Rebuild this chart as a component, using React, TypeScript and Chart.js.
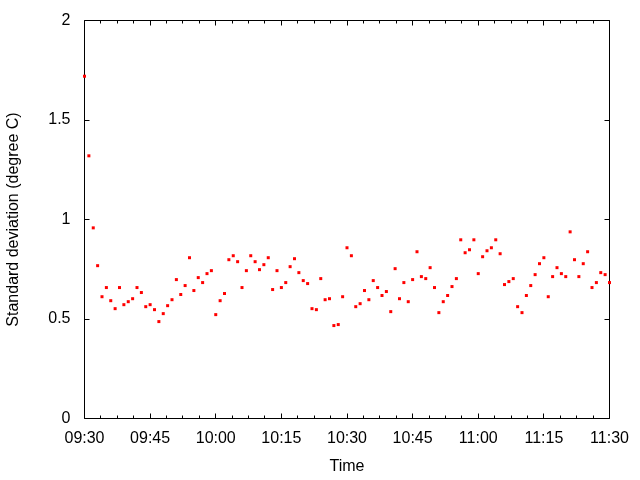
import React, { useEffect, useRef } from "react";
import { Chart, registerables } from "chart.js";

Chart.register(...registerables);

// Categories: one sample per minute, 09:30 .. 11:30
const timeLabels = [
  "09:30", "09:31", "09:32", "09:33", "09:34", "09:35", "09:36", "09:37", "09:38", "09:39",
  "09:40", "09:41", "09:42", "09:43", "09:44", "09:45", "09:46", "09:47", "09:48", "09:49",
  "09:50", "09:51", "09:52", "09:53", "09:54", "09:55", "09:56", "09:57", "09:58", "09:59",
  "10:00", "10:01", "10:02", "10:03", "10:04", "10:05", "10:06", "10:07", "10:08", "10:09",
  "10:10", "10:11", "10:12", "10:13", "10:14", "10:15", "10:16", "10:17", "10:18", "10:19",
  "10:20", "10:21", "10:22", "10:23", "10:24", "10:25", "10:26", "10:27", "10:28", "10:29",
  "10:30", "10:31", "10:32", "10:33", "10:34", "10:35", "10:36", "10:37", "10:38", "10:39",
  "10:40", "10:41", "10:42", "10:43", "10:44", "10:45", "10:46", "10:47", "10:48", "10:49",
  "10:50", "10:51", "10:52", "10:53", "10:54", "10:55", "10:56", "10:57", "10:58", "10:59",
  "11:00", "11:01", "11:02", "11:03", "11:04", "11:05", "11:06", "11:07", "11:08", "11:09",
  "11:10", "11:11", "11:12", "11:13", "11:14", "11:15", "11:16", "11:17", "11:18", "11:19",
  "11:20", "11:21", "11:22", "11:23", "11:24", "11:25", "11:26", "11:27", "11:28", "11:29",
  "11:30",
];

// Standard deviation (degree C) per minute
const stdDev = [
  1.72, 1.32, 0.958, 0.768, 0.612, 0.658, 0.592, 0.552, 0.658, 0.572,
  0.587, 0.602, 0.658, 0.633, 0.562, 0.572, 0.547, 0.487, 0.527, 0.567,
  0.597, 0.698, 0.623, 0.668, 0.808, 0.643, 0.708, 0.683, 0.728, 0.743,
  0.522, 0.592, 0.628, 0.798, 0.818, 0.788, 0.658, 0.743, 0.818, 0.788,
  0.748, 0.773, 0.808, 0.648, 0.743, 0.658, 0.683, 0.763, 0.803, 0.733,
  0.693, 0.678, 0.552, 0.547, 0.703, 0.597, 0.602, 0.467, 0.472, 0.612,
  0.858, 0.818, 0.562, 0.577, 0.643, 0.597, 0.693, 0.658, 0.618, 0.638,
  0.537, 0.753, 0.602, 0.683, 0.587, 0.698, 0.838, 0.713, 0.703, 0.758,
  0.658, 0.532, 0.587, 0.618, 0.663, 0.703, 0.898, 0.833, 0.848, 0.898,
  0.728, 0.813, 0.843, 0.858, 0.898, 0.828, 0.673, 0.688, 0.703, 0.562,
  0.532, 0.618, 0.668, 0.723, 0.778, 0.808, 0.612, 0.713, 0.758, 0.728,
  0.713, 0.938, 0.798, 0.713, 0.778, 0.838, 0.658, 0.683, 0.733, 0.723,
  0.683,
];

const xTickLabels = ["09:30", "09:45", "10:00", "10:15", "10:30", "10:45", "11:00", "11:15", "11:30"];
const yTickValues = [0, 0.5, 1, 1.5, 2];
const yTickLabels = ["0", "0.5", "1", "1.5", "2"];
const xTitle = "Time";
const yTitle = "Standard deviation (degree C)";

const FONT_FAMILY = "'Liberation Sans', Arial, Helvetica, sans-serif";
const FONT_SIZE = 16;
const MINOR_DIVISIONS = 4;

const frameTicksPlugin = {
  id: "frameTicks",
  beforeDatasetsDraw(chart: any) {
    const { ctx, chartArea, scales } = chart;
    const xs = scales.x;
    const ys = scales.y;
    const al = (p: number) => Math.floor(p) + 0.5;
    const L = al(chartArea.left);
    const R = al(chartArea.right);
    const T = al(chartArea.top);
    const B = al(chartArea.bottom);
    ctx.save();
    ctx.strokeStyle = "#000";
    ctx.lineWidth = 1;
    ctx.beginPath();
    ctx.rect(L, T, R - L, B - T);
    // y ticks (left + mirrored right), inward
    yTickValues.forEach((v) => {
      const py = al(ys.getPixelForValue(v));
      ctx.moveTo(L, py);
      ctx.lineTo(L + 5, py);
      ctx.moveTo(R, py);
      ctx.lineTo(R - 5, py);
    });
    // x major ticks (bottom + mirrored top), inward
    const majorIdx = xTickLabels.map((l) => timeLabels.indexOf(l));
    majorIdx.forEach((i) => {
      const px = al(xs.getPixelForValue(i));
      ctx.moveTo(px, B);
      ctx.lineTo(px, B - 5);
      ctx.moveTo(px, T);
      ctx.lineTo(px, T + 5);
    });
    // x minor ticks
    for (let k = 0; k < majorIdx.length - 1; k++) {
      const a = majorIdx[k];
      const b = majorIdx[k + 1];
      for (let m = 1; m < MINOR_DIVISIONS; m++) {
        const px = al(xs.getPixelForValue(a + ((b - a) * m) / MINOR_DIVISIONS));
        ctx.moveTo(px, B);
        ctx.lineTo(px, B - 3);
        ctx.moveTo(px, T);
        ctx.lineTo(px, T + 3);
      }
    }
    ctx.stroke();
    ctx.restore();
  },
};

export default function App() {
  const canvasRef = useRef<HTMLCanvasElement | null>(null);

  useEffect(() => {
    const canvas = canvasRef.current;
    if (!canvas) return;
    const chart = new Chart(canvas, {
      type: "line",
      data: {
        labels: timeLabels,
        datasets: [
          {
            data: stdDev,
            showLine: false,
            pointStyle: "rect",
            pointRadius: 2.1213,
            pointHoverRadius: 2.1213,
            pointBorderWidth: 0,
            borderWidth: 0,
            pointBackgroundColor: "#ff0000",
            backgroundColor: "#ff0000",
            borderColor: "#ff0000",
            clip: false as any,
          },
        ],
      },
      options: {
        animation: false,
        responsive: false,
        devicePixelRatio: 1,
        events: [],
        layout: { padding: { top: 20.5, right: 30.5, left: 0, bottom: 0 } },
        plugins: {
          legend: { display: false },
          tooltip: { enabled: false },
        },
        scales: {
          x: {
            type: "category",
            offset: false,
            grid: { display: false, drawTicks: false },
            border: { display: false },
            afterFit: (scale: any) => {
              scale.height = 61.5;
            },
            ticks: {
              autoSkip: false,
              maxRotation: 0,
              minRotation: 0,
              padding: 10,
              color: "#000",
              font: { family: FONT_FAMILY, size: FONT_SIZE },
              callback: function (this: any, value: any) {
                const lbl = this.getLabelForValue(value);
                return xTickLabels.includes(lbl) ? lbl : null;
              },
            },
            title: {
              display: true,
              text: xTitle,
              color: "#000",
              font: { family: FONT_FAMILY, size: FONT_SIZE },
              padding: { top: 4, bottom: 4 },
            },
          },
          y: {
            type: "linear",
            min: 0,
            max: 2,
            grid: { display: false, drawTicks: false },
            border: { display: false },
            afterFit: (scale: any) => {
              scale.width = 84.5;
              scale.paddingTop = 0;
              scale.paddingBottom = 0;
            },
            ticks: {
              stepSize: 0.5,
              padding: 14,
              color: "#000",
              font: { family: FONT_FAMILY, size: FONT_SIZE },
              callback: (value: any) => {
                const i = yTickValues.indexOf(Number(value));
                return i >= 0 ? yTickLabels[i] : "";
              },
            },
            title: {
              display: true,
              text: yTitle,
              color: "#000",
              font: { family: FONT_FAMILY, size: FONT_SIZE },
              padding: { top: 3.5, bottom: 3.5 },
            },
          },
        },
      },
      plugins: [frameTicksPlugin],
    });
    return () => chart.destroy();
  }, []);

  return (
    <div style={{ position: "fixed", left: 0, top: 0, width: 640, height: 480, background: "#fff" }}>
      <canvas ref={canvasRef} width={640} height={480} style={{ display: "block", width: 640, height: 480 }} />
    </div>
  );
}
